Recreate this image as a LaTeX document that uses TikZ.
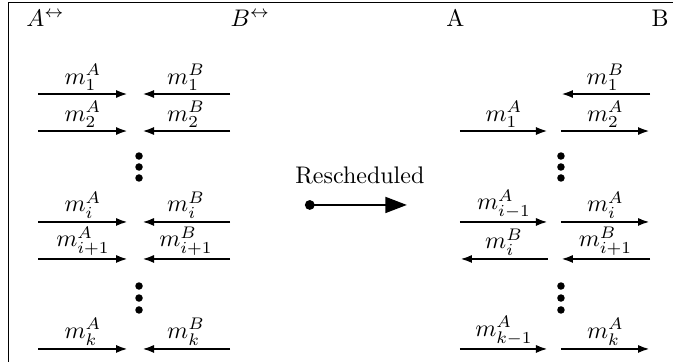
\documentclass[tikz,border=0pt]{standalone}
\usepackage{amsmath,amssymb}
\usepackage{tikz}
\usetikzlibrary{arrows.meta}

\begin{document}
\begin{tikzpicture}[
      msg/.style={-{Latex[length=5pt,width=3.4pt]},very thick},
      lab/.style={above,inner sep=1pt},
      dotn/.style={circle,fill,inner sep=0pt,minimum size=1.1mm},
      head/.style={anchor=base west,inner sep=0pt},
      resched/.style={{Circle[length=4pt]}-{Triangle[length=9pt,width=6.5pt]},very thick},
    ]
    \useasboundingbox (0,0) rectangle (9.857,-5.302);
    \draw (0.124,-5.302) -- (0.124,-0.03) -- (9.857,-0.03);

    % headers
    \node[head] (hAl) at (0.381,-0.388) {$A^{\leftrightarrow}$};
    \node[head] (hBl) at (3.369,-0.388) {$B^{\leftrightarrow}$};
    \node[head] (hAr) at (6.532,-0.388) {A};
    \node[head] (hBr) at (9.535,-0.388) {B};

    % arrow ends, one set per row
    \foreach \r/\y in {1/-1.377,2/-1.919,i/-3.251,j/-3.793,k/-5.111} {
      \coordinate (la\r) at (0.557,\y);
      \coordinate (lb\r) at (1.875,\y);
      \coordinate (lc\r) at (2.080,\y);
      \coordinate (ld\r) at (3.369,\y);
      \coordinate (ra\r) at (6.737,\y);
      \coordinate (rb\r) at (8.026,\y);
      \coordinate (rc\r) at (8.216,\y);
      \coordinate (rd\r) at (9.520,\y);
    }

    % before
    \draw[msg] (la1) -- node[lab] {$m_1^A$} (lb1);
    \draw[msg] (ld1) -- node[lab] {$m_1^B$} (lc1);
    \draw[msg] (la2) -- node[lab] {$m_2^A$} (lb2);
    \draw[msg] (ld2) -- node[lab] {$m_2^B$} (lc2);
    \draw[msg] (lai) -- node[lab] {$m_i^A$} (lbi);
    \draw[msg] (ldi) -- node[lab] {$m_i^B$} (lci);
    \draw[msg] (laj) -- node[lab] {$m_{i+1}^A$} (lbj);
    \draw[msg] (ldj) -- node[lab] {$m_{i+1}^B$} (lcj);
    \draw[msg] (lak) -- node[lab] {$m_k^A$} (lbk);
    \draw[msg] (ldk) -- node[lab] {$m_k^B$} (lck);

    % after
    \draw[msg] (rd1) -- node[lab] {$m_1^B$} (rc1);
    \draw[msg] (ra2) -- node[lab] {$m_1^A$} (rb2);
    \draw[msg] (rc2) -- node[lab] {$m_2^A$} (rd2);
    \draw[msg] (rai) -- node[lab] {$m_{i-1}^A$} (rbi);
    \draw[msg] (rci) -- node[lab] {$m_i^A$} (rdi);
    \draw[msg] (rbj) -- node[lab] {$m_i^B$} (raj);
    \draw[msg] (rdj) -- node[lab] {$m_{i+1}^B$} (rcj);
    \draw[msg] (rak) -- node[lab] {$m_{k-1}^A$} (rbk);
    \draw[msg] (rck) -- node[lab] {$m_k^A$} (rdk);

    % vertical dots
    \foreach \n/\y in {1/-2.285,2/-2.446,3/-2.607} {
      \node[dotn] (lu\n) at (2.036,\y) {};
      \node[dotn] (ru\n) at (8.216,\y) {};
    }
    \foreach \n/\y in {1/-4.189,2/-4.365,3/-4.540} {
      \node[dotn] (lv\n) at (2.036,\y) {};
      \node[dotn] (rv\n) at (8.216,\y) {};
    }

    % middle arrow
    \coordinate (rs) at (4.467,-3.002);
    \coordinate (re) at (5.961,-3.002);
    \draw[resched] (rs) -- (re);
    \node (rtext) at (5.27,-2.563) {Rescheduled};
  \end{tikzpicture}
\end{document}
